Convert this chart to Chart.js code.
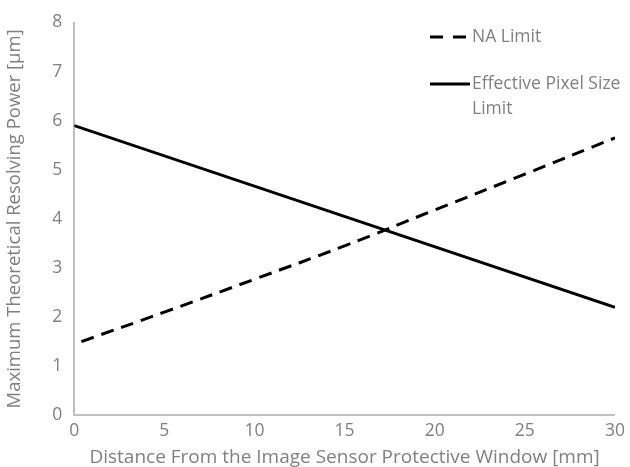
<!DOCTYPE html>
<html>
<head>
<meta charset="utf-8">
<script src="https://cdn.jsdelivr.net/npm/chart.js@4"></script>
<style>
html,body{margin:0;padding:0;background:#fff;}
#wrap{width:630px;height:467px;}
</style>
</head>
<body>
<div id="wrap"><canvas id="c" width="630" height="467"></canvas></div>
<script>
const naX = [0.4, 5, 10, 15, 20, 25, 30];
const naY = [1.5, 2.1, 2.77, 3.45, 4.18, 4.91, 5.65];
const pxX = [0, 30];
const pxY = [5.9, 2.2];
const xTicks = [0, 5, 10, 15, 20, 25, 30];
const yTicks = [0, 1, 2, 3, 4, 5, 6, 7, 8];
const labels = ['NA Limit', 'Effective Pixel Size Limit'];
const xTitle = 'Distance From the Image Sensor Protective Window [mm]';
const yTitle = 'Maximum Theoretical Resolving Power [µm]';

const FONT = '"Open Sans", sans-serif';
const GRAY = '#808080';

const legendPlugin = {
  id: 'customLegend',
  afterDraw(chart) {
    const ctx = chart.ctx;
    ctx.save();
    ctx.font = '17.5px ' + FONT;
    ctx.fillStyle = GRAY;
    ctx.textBaseline = 'middle';
    ctx.textAlign = 'left';
    const lx0 = 430, lx1 = 470, tx = 472;
    ctx.strokeStyle = '#000';
    ctx.lineWidth = 3;
    ctx.setLineDash([13, 10]);
    ctx.beginPath(); ctx.moveTo(lx0, 37); ctx.lineTo(lx1, 37); ctx.stroke();
    ctx.fillText(chart.data.datasets[0].label, tx, 37);
    ctx.setLineDash([]);
    ctx.beginPath(); ctx.moveTo(lx0, 84); ctx.lineTo(lx1, 84); ctx.stroke();
    const words = chart.data.datasets[1].label.split(' ');
    ctx.fillText(words.slice(0, 3).join(' '), tx, 84);
    ctx.fillText(words.slice(3).join(' '), tx, 109);
    ctx.restore();
  }
};

new Chart(document.getElementById('c'), {
  type: 'line',
  data: {
    datasets: [
      {
        label: labels[0],
        data: naX.map((x, i) => ({x: x, y: naY[i]})),
        borderColor: '#000',
        borderWidth: 3,
        borderDash: [13, 8],
        pointRadius: 0,
        tension: 0.4,
        fill: false
      },
      {
        label: labels[1],
        data: pxX.map((x, i) => ({x: x, y: pxY[i]})),
        borderColor: '#000',
        borderWidth: 3,
        pointRadius: 0,
        fill: false
      }
    ]
  },
  plugins: [legendPlugin],
  options: {
    responsive: false,
    animation: false,
    events: [],
    layout: {padding: {left: 4, right: -4, top: 19, bottom: -2}},
    plugins: {legend: {display: false}, tooltip: {enabled: false}},
    scales: {
      x: {
        type: 'linear',
        min: 0, max: 30,
        afterBuildTicks: (s) => { s.ticks = xTicks.map(v => ({value: v})); },
        grid: {display: false, drawTicks: false},
        border: {display: true, color: '#c0c0c0', width: 2},
        ticks: {color: GRAY, font: {size: 17.5, family: FONT}, padding: 5},
        title: {display: true, text: xTitle, color: GRAY, font: {size: 19, family: FONT}, padding: {top: 0, bottom: 0}}
      },
      y: {
        type: 'linear',
        min: 0, max: 8,
        afterBuildTicks: (s) => { s.ticks = yTicks.map(v => ({value: v})); },
        grid: {display: false, drawTicks: false},
        border: {display: true, color: '#c0c0c0', width: 2},
        ticks: {color: GRAY, font: {size: 17.5, family: FONT}, padding: 12},
        title: {display: true, text: yTitle, color: GRAY, font: {size: 18.5, family: FONT}, padding: {top: 0, bottom: 14}}
      }
    }
  }
});
</script>
</body>
</html>
